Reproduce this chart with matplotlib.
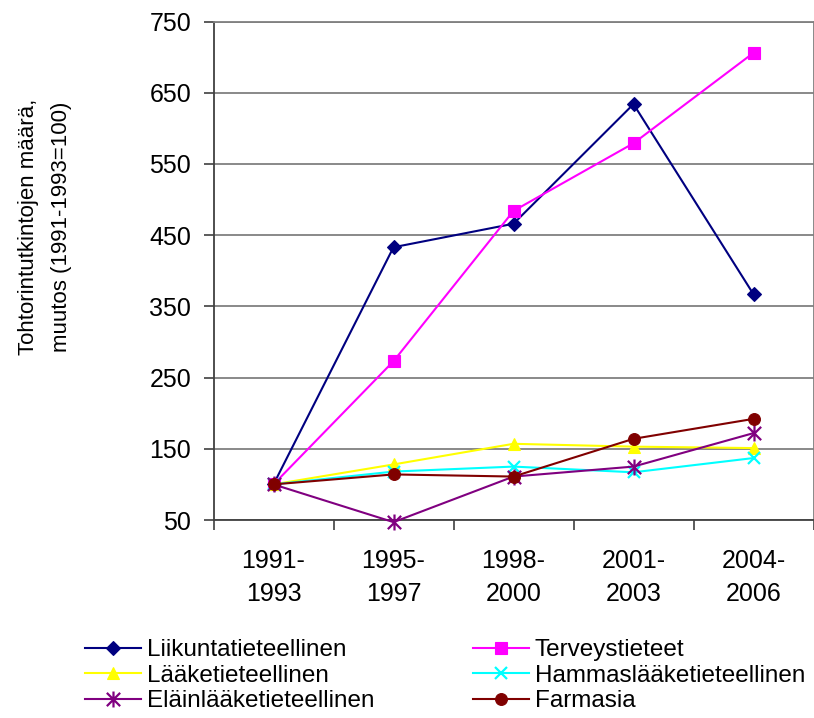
import matplotlib
matplotlib.use("Agg")
import matplotlib.pyplot as plt
from matplotlib.path import Path

plt.rcParams["font.family"] = ["Liberation Sans", "DejaVu Sans"]

# data (index 1991-1993 = 100)
periods = ["1991-\n1993", "1995-\n1997", "1998-\n2000", "2001-\n2003", "2004-\n2006"]
liikunta = [100, 433, 466, 634, 367]
terveys = [100, 273, 484, 579, 706]
laake = [100, 128, 157, 153, 151]
hammas = [100, 118, 125, 117, 137]
elain = [100, 47, 111, 125, 172]
farmasia = [100, 114, 111, 164, 192]
y_ticks = [50, 150, 250, 350, 450, 550, 650, 750]

# excel style asterisk: an x with a vertical bar through it
star = Path(
    [(-0.5, -0.5), (0.5, 0.5), (-0.5, 0.5), (0.5, -0.5), (0, -0.6), (0, 0.6)],
    [Path.MOVETO, Path.LINETO, Path.MOVETO, Path.LINETO, Path.MOVETO, Path.LINETO],
)

series = [
    ("Liikuntatieteellinen", liikunta, "#000080", "D", 7.5),
    ("Terveystieteet", terveys, "#FF00FF", "s", 8.5),
    ("Lääketieteellinen", laake, "#FFFF00", "^", 9),
    ("Hammaslääketieteellinen", hammas, "#00FFFF", "x", 8.5),
    ("Eläinlääketieteellinen", elain, "#800080", star, 11.5),
    ("Farmasia", farmasia, "#800000", "o", 8.5),
]

fig = plt.figure(figsize=(8.14, 7.18), dpi=100)
ax = fig.add_axes([213.5 / 814, 1 - 520 / 718, 600 / 814, 498.5 / 718])

x = list(range(len(periods)))
handles = []
for name, vals, col, mk, ms in series:
    (ln,) = ax.plot(x, vals, color=col, lw=1.5, marker=mk, markersize=ms,
                    markeredgewidth=1.6 if mk in ("x", star) else 0.8,
                    markerfacecolor=col, markeredgecolor=col,
                    label=name, clip_on=False, zorder=3)
    handles.append(ln)

ax.set_xlim(-0.5, len(periods) - 0.5)
ax.set_ylim(50, 750)
ax.set_yticks(y_ticks)
ax.set_xticks(x)
ax.set_xticklabels(periods, linespacing=1.45)
ax.set_xticks([i - 0.5 for i in range(len(periods) + 1)], minor=True)
ax.tick_params(axis="x", which="major", length=0, pad=21, labelsize=18)
ax.tick_params(axis="x", which="minor", length=7, width=1.2, color="#404040")
ax.tick_params(axis="y", length=7, width=1.2, color="#404040", pad=9, labelsize=18)

ax.grid(axis="y", color="#808080", lw=1.3, zorder=0)
for side in ("top", "right"):
    ax.spines[side].set_color("#808080")
    ax.spines[side].set_linewidth(1.3)
for side in ("left", "bottom"):
    ax.spines[side].set_color("#404040")
    ax.spines[side].set_linewidth(1.3)

fig.text(45 / 814, 1 - 227 / 718, "Tohtorintutkintojen määrä,\nmuutos (1991-1993=100)",
         rotation=90, ha="center", va="center", fontsize=16, linespacing=1.75,
         multialignment="center")

# legend in two columns, placed separately for exact x positions
leg_kw = dict(frameon=False, fontsize=17.5, handlelength=2.3, handletextpad=0.25,
              labelspacing=0.15, borderpad=0, borderaxespad=0, loc="upper left")
col1 = [handles[0], handles[2], handles[4]]
col2 = [handles[1], handles[3], handles[5]]
fig.legend(col1, [h.get_label() for h in col1],
           bbox_to_anchor=(85 / 814, 1 - 639 / 718), **leg_kw)
fig.legend(col2, [h.get_label() for h in col2],
           bbox_to_anchor=(473 / 814, 1 - 639 / 718), **leg_kw)

fig.savefig("out.png", dpi=100)
